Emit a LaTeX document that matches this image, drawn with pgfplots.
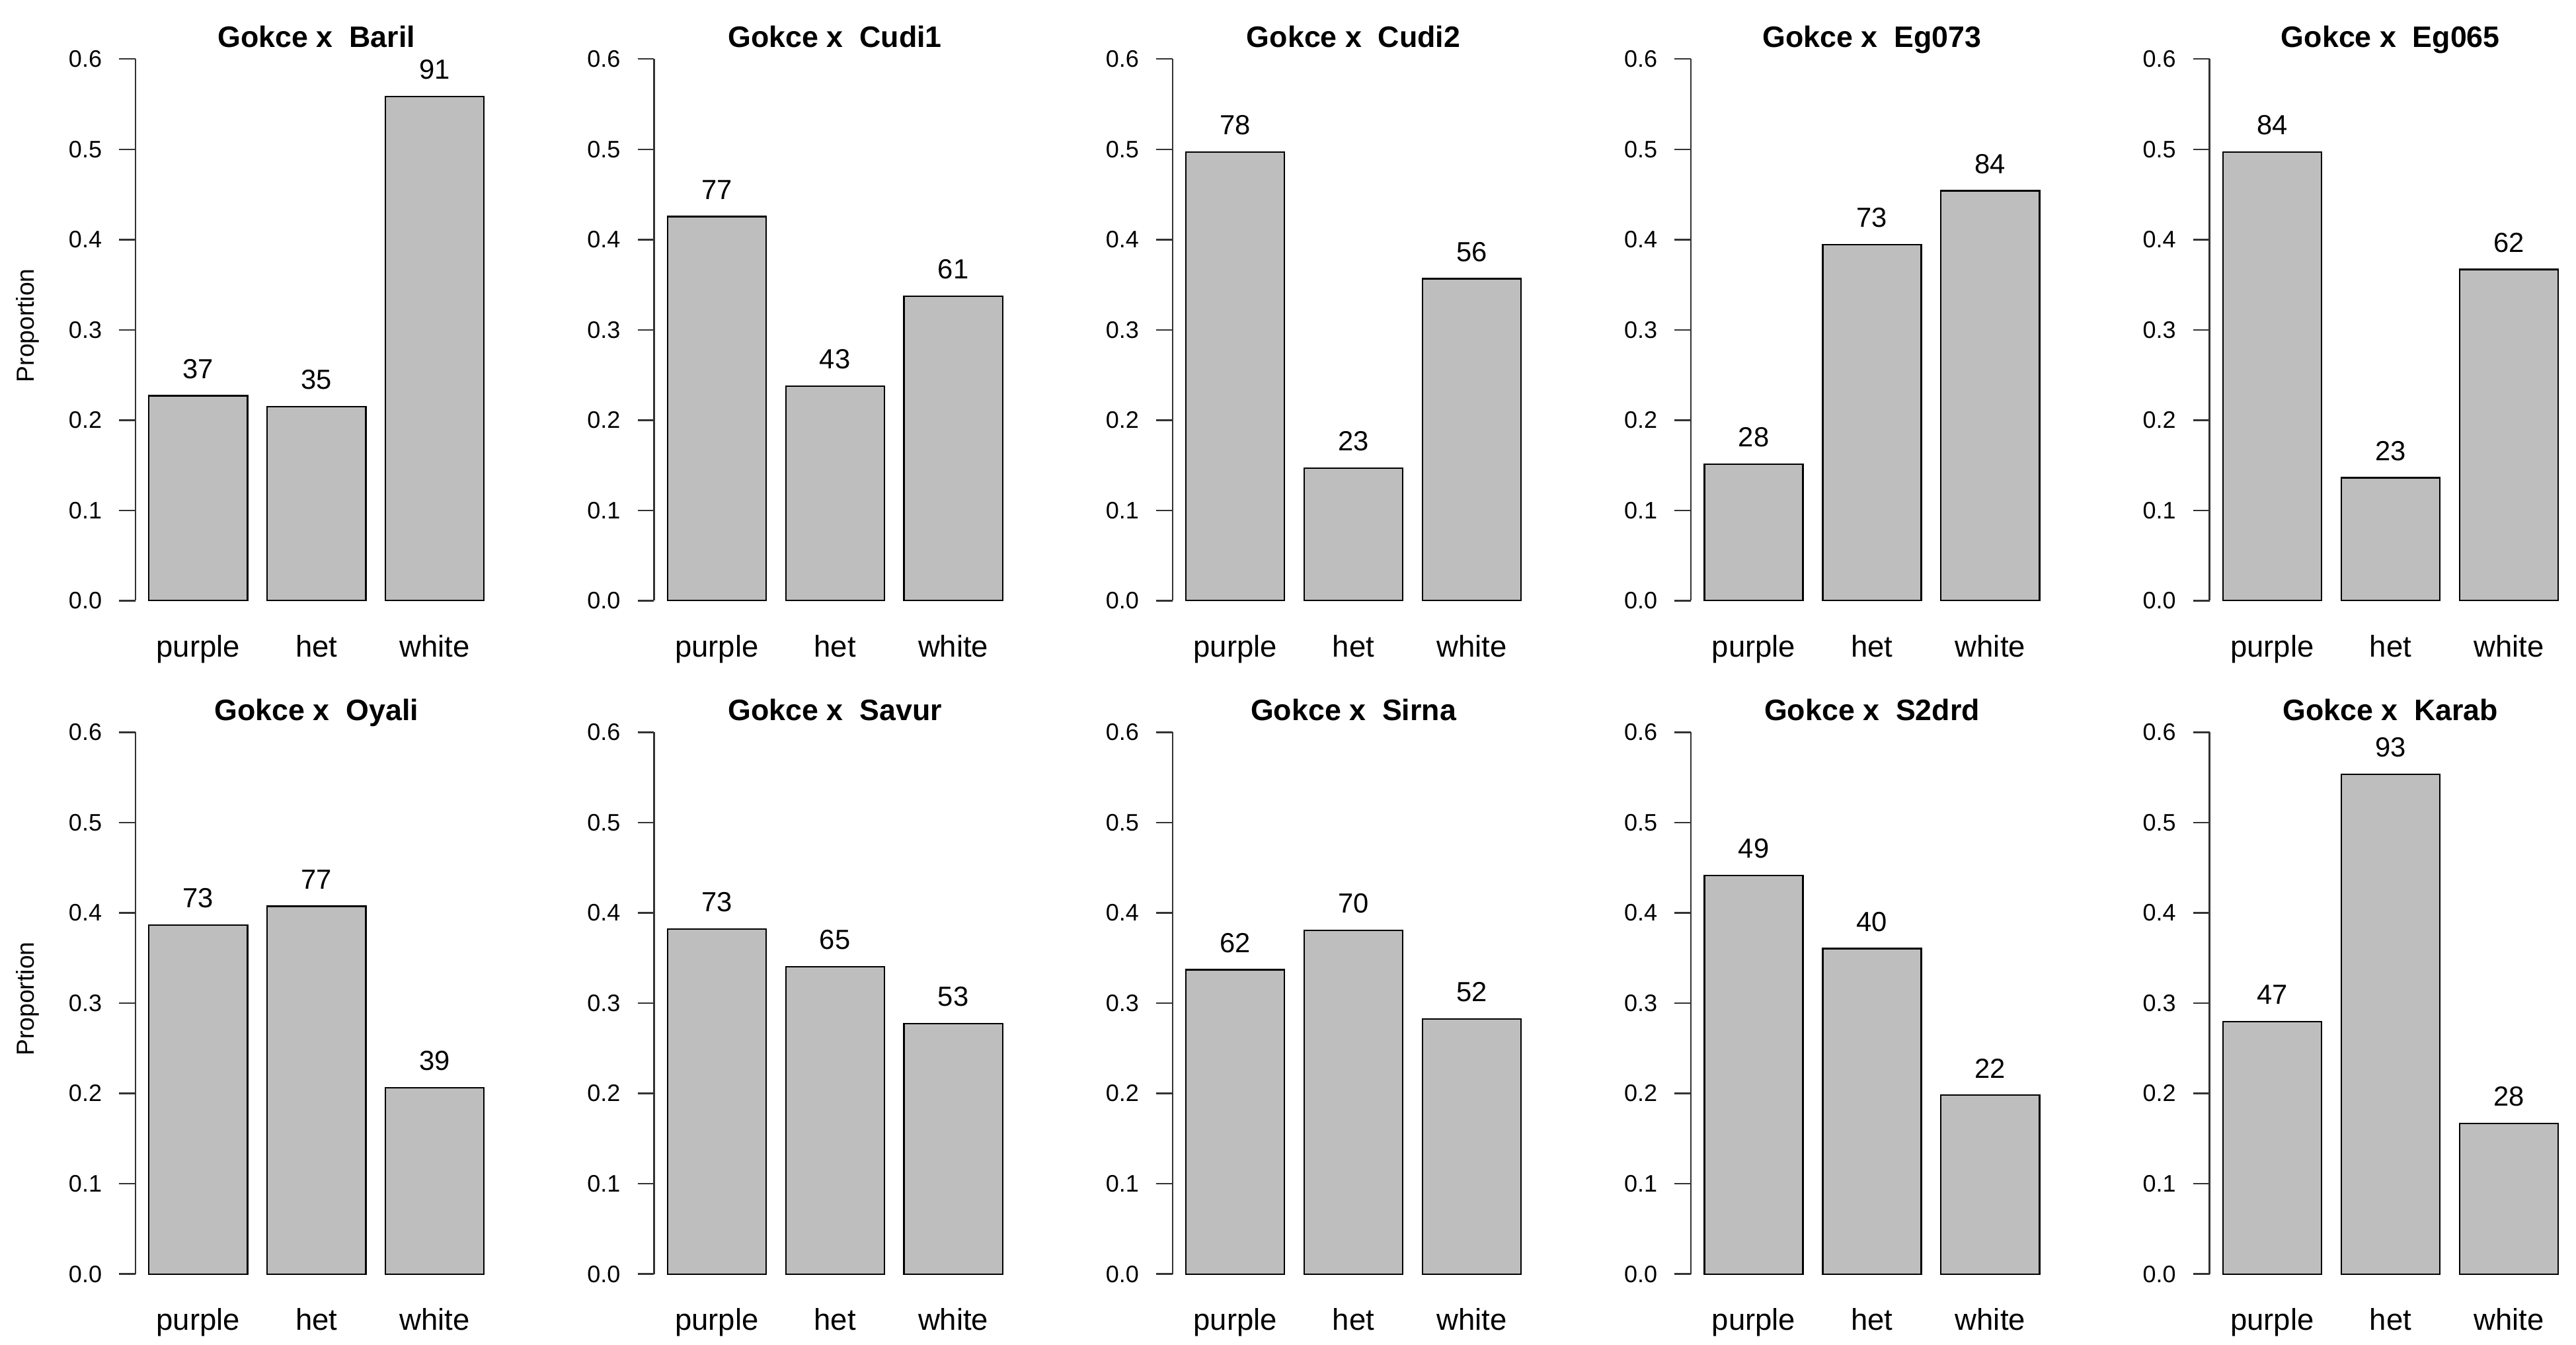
\documentclass[border=0pt]{standalone}
\usepackage{fontspec}
\setmainfont{Liberation Sans}
\usepackage{pgfplots}
\pgfplotsset{compat=1.18}
\definecolor{bargray}{RGB}{190,190,190}
\pgfplotsset{rpanel/.style={
  x=60pt, y=549.3pt, xmin=0.064, xmax=3.736, ymin=0, ymax=0.6,
  anchor=south west, clip=false,
  axis y line*=left, axis x line*=bottom,
  x axis line style={draw=none},
  y axis line style={-, line width=1pt, color=black!80},
  ytick={0,0.1,0.2,0.3,0.4,0.5,0.6},
  xtick={0.7,1.9,3.1}, xticklabels={purple,het,white},
  major x tick style={draw=none},
  major y tick style={line width=1pt, color=black!80},
  tick align=outside, major tick length=10pt,
  /pgf/number format/.cd, fixed, fixed zerofill, precision=1, assume math mode=true, /pgfplots/.cd,
  yticklabel style={font=\fontsize{14.5}{16}\selectfont, anchor=east, inner sep=0pt, xshift=-10.3pt},
  xticklabel style={font=\fontsize{18.3}{20}\selectfont, anchor=base, inner sep=0pt, yshift=-24.2pt},
  every axis title/.style={font=\bfseries\fontsize{18}{20}\selectfont, at={(0.5,1)}, anchor=base, inner sep=0pt, yshift=7.2pt},
  ylabel style={font=\fontsize{15}{17}\selectfont, at={(-0.28,0.508)}, anchor=base, inner sep=0pt},
}}
\newcommand{\panel}[5]{%
\begin{axis}[rpanel, at={(#1,#2)}, title={#3}, ylabel={#4}]
\addplot[ybar, bar width=1, fill=bargray, draw=black, line width=0.9pt,
  nodes near coords, point meta=explicit symbolic,
  nodes near coords style={font=\fontsize{16.8}{18}\selectfont, inner sep=0pt, anchor=south, yshift=10pt}]
  coordinates {#5};
\end{axis}}
\begin{document}
\begin{tikzpicture}
\useasboundingbox (0,0) rectangle (1568pt,818.4pt);
\panel{82.5pt}{452.9pt}{Gokce x\ \ Baril}{Proportion}{(0.7,0.2270)[37] (1.9,0.2147)[35] (3.1,0.5583)[91]}
\panel{398.1pt}{452.9pt}{Gokce x\ \ Cudi1}{}{(0.7,0.4254)[77] (1.9,0.2376)[43] (3.1,0.3370)[61]}
\panel{713.7pt}{452.9pt}{Gokce x\ \ Cudi2}{}{(0.7,0.4968)[78] (1.9,0.1465)[23] (3.1,0.3567)[56]}
\panel{1029.3pt}{452.9pt}{Gokce x\ \ Eg073}{}{(0.7,0.1514)[28] (1.9,0.3946)[73] (3.1,0.4541)[84]}
\panel{1344.9pt}{452.9pt}{Gokce x\ \ Eg065}{}{(0.7,0.4970)[84] (1.9,0.1361)[23] (3.1,0.3669)[62]}
\panel{82.5pt}{43.2pt}{Gokce x\ \ Oyali}{Proportion}{(0.7,0.3862)[73] (1.9,0.4074)[77] (3.1,0.2063)[39]}
\panel{398.1pt}{43.2pt}{Gokce x\ \ Savur}{}{(0.7,0.3822)[73] (1.9,0.3403)[65] (3.1,0.2775)[53]}
\panel{713.7pt}{43.2pt}{Gokce x\ \ Sirna}{}{(0.7,0.3370)[62] (1.9,0.3804)[70] (3.1,0.2826)[52]}
\panel{1029.3pt}{43.2pt}{Gokce x\ \ S2drd}{}{(0.7,0.4414)[49] (1.9,0.3604)[40] (3.1,0.1982)[22]}
\panel{1344.9pt}{43.2pt}{Gokce x\ \ Karab}{}{(0.7,0.2798)[47] (1.9,0.5536)[93] (3.1,0.1667)[28]}
\end{tikzpicture}
\end{document}
